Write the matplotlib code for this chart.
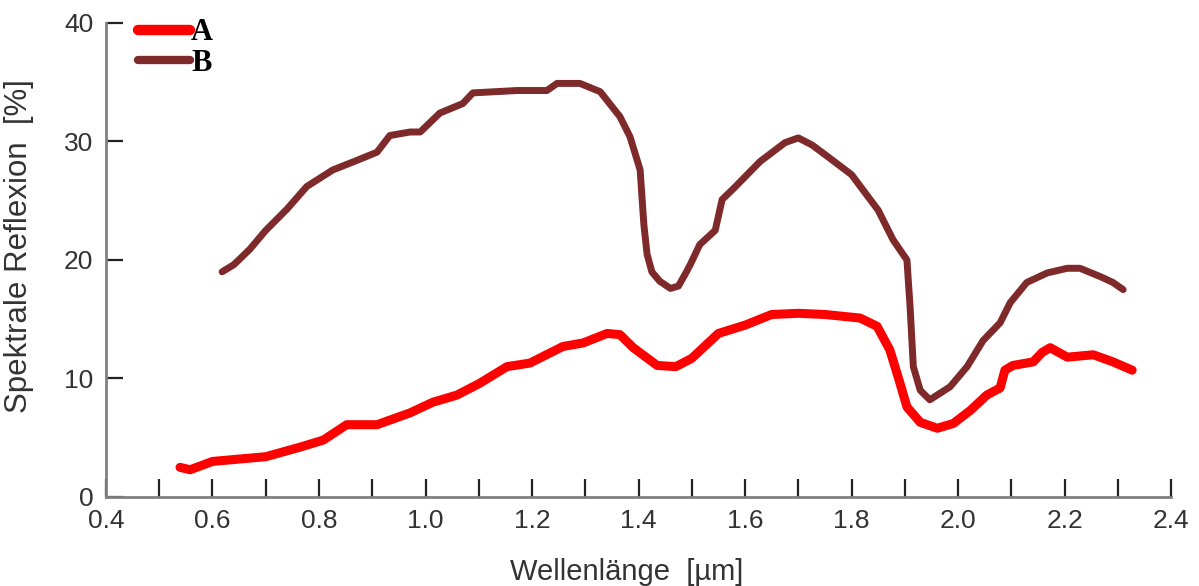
import numpy as np
import matplotlib
matplotlib.use("Agg")
import matplotlib.pyplot as plt
from matplotlib.ticker import MultipleLocator

# Kurve A (rot)
wl_a = [0.539, 0.558, 0.60, 0.65, 0.70, 0.764, 0.808, 0.852, 0.909, 0.971, 1.014,
        1.059, 1.102, 1.153, 1.196, 1.258, 1.296, 1.341, 1.365, 1.390, 1.435, 1.47,
        1.50, 1.55, 1.60, 1.65, 1.70, 1.75, 1.816, 1.848, 1.872, 1.891, 1.904,
        1.929, 1.961, 1.991, 2.023, 2.054, 2.079, 2.088, 2.103, 2.141, 2.158,
        2.173, 2.205, 2.254, 2.291, 2.327]
refl_a = [2.5, 2.3, 3.0, 3.2, 3.4, 4.2, 4.8, 6.1, 6.1, 7.1, 8.0,
          8.6, 9.6, 11.0, 11.3, 12.7, 13.0, 13.8, 13.7, 12.6, 11.1, 11.0,
          11.7, 13.8, 14.5, 15.4, 15.5, 15.4, 15.1, 14.4, 12.4, 9.6, 7.6,
          6.3, 5.8, 6.2, 7.3, 8.6, 9.2, 10.7, 11.1, 11.4, 12.2,
          12.6, 11.8, 12.0, 11.4, 10.7]

# Kurve B (braun)
wl_b = [0.618, 0.64, 0.67, 0.70, 0.74, 0.777, 0.826, 0.871, 0.909, 0.933, 0.971,
        0.990, 1.027, 1.070, 1.089, 1.172, 1.228, 1.247, 1.290, 1.328, 1.365,
        1.384, 1.403, 1.410, 1.416, 1.425, 1.44, 1.46, 1.475, 1.49, 1.497, 1.515,
        1.544, 1.557, 1.58, 1.628, 1.675, 1.70, 1.726, 1.75, 1.80, 1.85, 1.878,
        1.904, 1.910, 1.916, 1.929, 1.947, 1.985, 2.017, 2.047, 2.079, 2.098,
        2.129, 2.167, 2.205, 2.229, 2.267, 2.291, 2.310]
refl_b = [19.0, 19.6, 20.9, 22.5, 24.3, 26.2, 27.6, 28.4, 29.1, 30.5, 30.8,
          30.8, 32.4, 33.2, 34.1, 34.3, 34.3, 34.9, 34.9, 34.2, 32.1,
          30.4, 27.6, 23.0, 20.5, 19.0, 18.2, 17.6, 17.8, 19.0, 19.6, 21.3,
          22.5, 25.1, 26.1, 28.3, 29.9, 30.3, 29.7, 28.9, 27.2, 24.2, 21.7,
          20.0, 16.0, 11.0, 9.0, 8.2, 9.3, 11.0, 13.2, 14.7, 16.4,
          18.1, 18.9, 19.3, 19.3, 18.6, 18.1, 17.5]

labels = ["A", "B"]
colors = ["#ff0000", "#7f2a2a"]

fig = plt.figure(figsize=(11.99, 5.86), dpi=100)
ax = fig.add_axes([0.0884, 0.1519, 0.8883, 0.8089])

ax.plot(wl_a, refl_a, color=colors[0], lw=6.5, solid_capstyle="round",
        solid_joinstyle="round", label=labels[0])
ax.plot(wl_b, refl_b, color=colors[1], lw=5, solid_capstyle="round",
        solid_joinstyle="round", label=labels[1])

ax.set_xlim(0.4, 2.4)
ax.set_ylim(0, 40)
ax.xaxis.set_major_locator(MultipleLocator(0.2))
ax.xaxis.set_minor_locator(MultipleLocator(0.1))
ax.yaxis.set_major_locator(MultipleLocator(10))
ax.set_xticklabels([f"{v:.1f}" for v in ax.get_xticks()])

for s in ["top", "right"]:
    ax.spines[s].set_visible(False)
for s in ["left", "bottom"]:
    ax.spines[s].set_color("#808080")
    ax.spines[s].set_linewidth(2)

ax.tick_params(axis="x", which="both", direction="in", length=13, width=1.6,
               color="#222222", pad=9, labelsize=19, labelcolor="#333333")
ax.tick_params(axis="y", which="major", direction="in", length=12, width=1.6,
               color="#222222", pad=9, labelsize=19, labelcolor="#333333")
for t in ax.get_xticklabels() + ax.get_yticklabels():
    t.set_family("Liberation Sans")

ax.set_xlabel("Wellenlänge  [µm]", fontsize=21, family="Liberation Sans",
              color="#333333")
ax.set_ylabel("Spektrale Reflexion  [%]", fontsize=22.5, family="Liberation Sans",
              color="#333333")
ax.xaxis.set_label_coords(0.489, -0.128)
ax.yaxis.set_label_coords(-0.068, 0.53)

leg = ax.legend(loc="upper left", bbox_to_anchor=(0.004, 1.068), frameon=False,
                handlelength=1.7, handletextpad=0.05, labelspacing=0.05,
                prop={"family": "Liberation Serif", "weight": "bold", "size": 22})
leg.get_lines()[0].set_linewidth(7.5)
leg.get_lines()[1].set_linewidth(6)

fig.savefig("out.png", dpi=100)
